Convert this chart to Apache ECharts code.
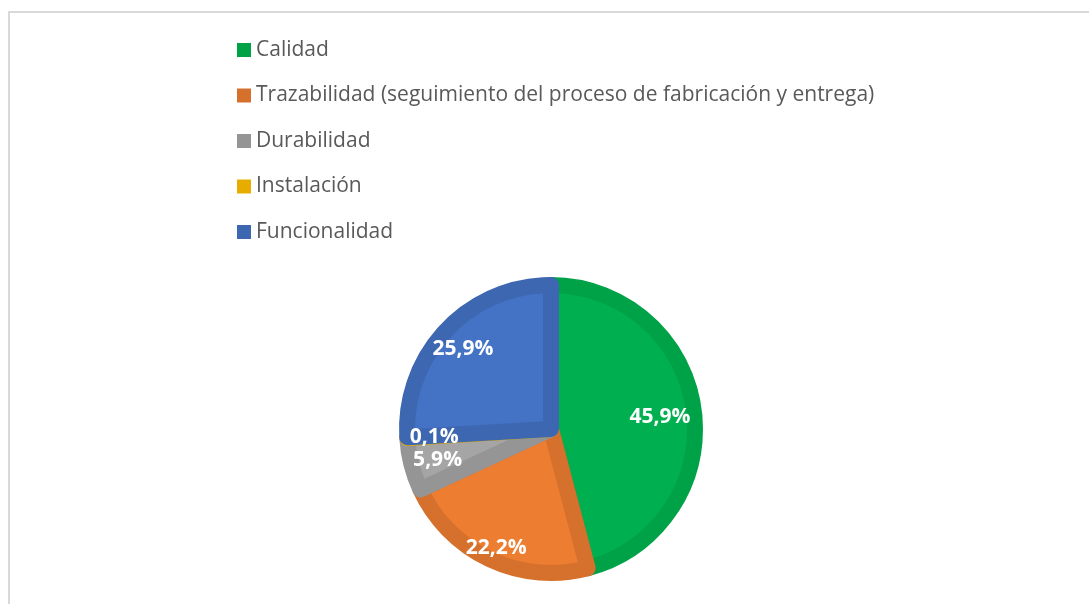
<!DOCTYPE html>
<html><head><meta charset="utf-8">
<script src="https://cdn.jsdelivr.net/npm/echarts@6/dist/echarts.min.js"></script>
<style>html,body{margin:0;padding:0;background:#fff}#c{width:1089px;height:604px}</style>
</head><body><div id="c"></div>
<script>
const categories = ['Calidad','Trazabilidad (seguimiento del proceso de fabricación y entrega)','Durabilidad','Instalación','Funcionalidad'];
const values = [45.9, 22.2, 5.9, 0.1, 25.9];
const labels = ['45,9%','22,2%','5,9%','0,1%','25,9%'];
const fillColors = ['#00B050','#ED7D31','#A5A5A5','#FFC000','#4472C4'];
const edgeColors = ['#00A247','#D5712C','#959595','#E6AD00','#3D67B1'];
const labelOffsets = [[-7,3],[-5,13],[0,2],[0,1],[-3,0]];

const chart = echarts.init(document.getElementById('c'), null, {renderer:'canvas'});
const font = "'Open Sans', 'DejaVu Sans', sans-serif";
const center = [551,429];
chart.setOption({
  animation:false,
  backgroundColor:'#fff',
  graphic:[{type:'rect', shape:{x:9,y:12,width:1200,height:800}, style:{fill:'none', stroke:'#d9d9d9', lineWidth:2}, silent:true}],
  legend:{
    orient:'vertical', left:237, top:39, padding:0, itemWidth:14, itemHeight:14, itemGap:23.5, icon:'rect',
    textStyle:{fontFamily:font, fontSize:21, color:'#595959', lineHeight:22},
    itemStyle:{borderWidth:0},
    data: categories.map((n,i)=>({name:n, itemStyle:{color:edgeColors[i], borderWidth:0}})),
    selectedMode:false
  },
  series:[
    {
      type:'pie', center:center, radius:[0,144], startAngle:90, clockwise:true,
      label:{show:false}, labelLine:{show:false}, emphasis:{disabled:true}, silent:true,
      data: categories.map((n,i)=>({name:n, value:values[i], itemStyle:{color:fillColors[i], borderColor:edgeColors[i], borderWidth:16, borderJoin:'round'}}))
    },
    {
      type:'pie', center:center, radius:[0,228], startAngle:90, clockwise:true,
      itemStyle:{color:'rgba(0,0,0,0)'}, emphasis:{disabled:true}, silent:true, labelLine:{show:false},
      label:{show:true, position:'inside', fontFamily:font, fontWeight:'bold', fontSize:21, color:'#fff'},
      data: categories.map((n,i)=>({name:n, value:values[i], label:{formatter:labels[i], offset:labelOffsets[i]}}))
    }
  ]
});
</script></body></html>
